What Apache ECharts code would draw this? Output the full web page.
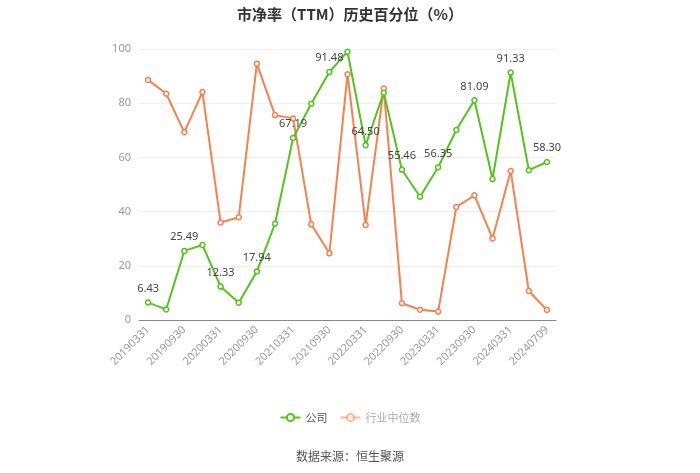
<!DOCTYPE html>
<html><head><meta charset="utf-8">
<script src="https://cdn.jsdelivr.net/npm/echarts@6/dist/echarts.min.js"></script>
<style>html,body{margin:0;padding:0;background:#fff}#c{width:700px;height:473px}</style>
</head><body><div id="c"></div>
<script>
const categories = ['20190331','20190630','20190930','20191231','20200331','20200630','20200930','20201231','20210331','20210630','20210930','20211231','20220331','20220630','20220930','20221231','20230331','20230630','20230930','20231231','20240331','20240630','20240709'];
const companyValues = [6.43,3.9,25.49,27.7,12.33,6.4,17.94,35.5,67.19,79.8,91.48,99.0,64.50,83.9,55.46,45.5,56.35,70.1,81.09,52.0,91.33,55.3,58.30];
const industryValues = [88.6,83.5,69.3,84.1,36.0,37.9,94.6,75.6,74.4,35.3,24.6,90.7,35.1,85.4,6.2,3.8,3.1,41.7,46.0,30.1,55.0,10.7,3.7];
const yTicks = [0,20,40,60,80,100];

const chart = echarts.init(document.getElementById('c'));
chart.setOption({
  animation: false,
  title: {
    text: '市净率（TTM）历史百分位（%）',
    left: 'center', top: 2,
    textStyle: {fontSize: 15, fontWeight: 'bold', color: '#333', fontFamily: 'Noto Sans CJK SC'}
  },
  graphic: [{
    type: 'text', left: 'center', top: 450,
    style: {text: '数据来源：恒生聚源', fontSize: 12, fill: '#555', fontFamily: 'Noto Sans CJK SC'}
  }],
  legend: {
    bottom: 45, left: 'center', itemWidth: 20, itemHeight: 9, itemGap: 12,
    textStyle: {color: '#555', fontSize: 11, fontFamily: 'Noto Sans CJK SC'},
    data: [{name: '公司'}, {name: '行业中位数', textStyle: {color: '#aaa'}, itemStyle: {opacity: 0.55}, lineStyle: {opacity: 0.55}}]
  },
  grid: {left: 139, right: 144, top: 49, bottom: 153},
  xAxis: {
    type: 'category', data: categories, boundaryGap: true,
    axisLine: {lineStyle: {color: '#888'}},
    axisTick: {alignWithLabel: true, interval: 1, lineStyle: {color: '#888'}},
    axisLabel: {interval: 1, rotate: 45, color: '#999', fontSize: 11, fontFamily: 'Noto Sans'}
  },
  yAxis: {
    type: 'value', min: yTicks[0], max: yTicks[yTicks.length-1], interval: 20,
    axisLine: {show: false}, axisTick: {show: false},
    axisLabel: {color: '#999', fontSize: 11, fontFamily: 'Noto Sans'},
    splitLine: {lineStyle: {color: '#eee'}}
  },
  series: [{
    name: '公司', type: 'line', data: companyValues,
    symbol: 'circle', symbolSize: 5, showAllSymbol: true,
    itemStyle: {color: '#fff', borderColor: '#52c41a', borderWidth: 1.5},
    lineStyle: {color: '#52c41a', width: 2},
    label: {show: true, position: 'top', color: '#444', fontSize: 11, fontFamily: 'Noto Sans',
      formatter: p => p.dataIndex % 2 === 0 ? p.value.toFixed(2) : ''},
    z: 3
  }, {
    name: '行业中位数', type: 'line', data: industryValues,
    symbol: 'circle', symbolSize: 5, showAllSymbol: true,
    itemStyle: {color: '#fff', borderColor: '#f7804f', borderWidth: 1.5},
    lineStyle: {color: '#f7804f', width: 2},
    z: 2
  }]
});
</script></body></html>
